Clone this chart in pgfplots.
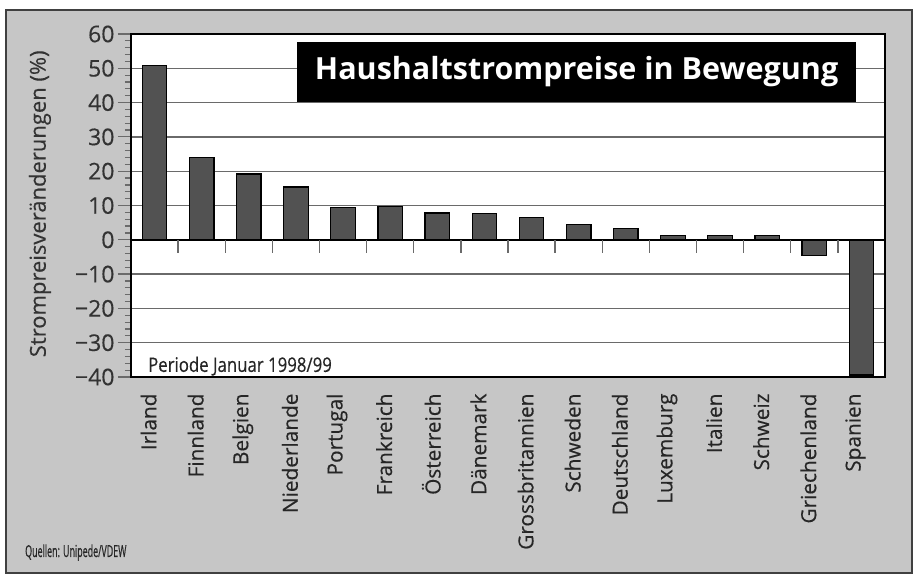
\documentclass[border=0pt]{standalone}
\usepackage{pgfplots}
\pgfplotsset{compat=1.18}
\usepackage{fontspec}
\setmainfont{Open Sans}[FakeBold=0.35]
\newfontfamily\condfont{Open Sans}[FakeStretch=0.84,FakeBold=0.35]
\newfontfamily\narrowfont{Open Sans}[FakeStretch=0.54,FakeBold=0.35]
\newfontfamily\titlefont{Open Sans Bold}
\definecolor{panelgray}{HTML}{C6C6C6}
\definecolor{bargray}{HTML}{525252}
\definecolor{gridgray}{HTML}{6A6A6A}
\begin{document}
\begin{tikzpicture}
\fill[white] (0,0) rectangle (915pt,586pt);
\filldraw[fill=panelgray, draw=black!75, line width=1.5pt] (6pt,13pt) rectangle (912pt,576pt);
\begin{axis}[
  at={(131pt,209pt)}, anchor=south west,
  scale only axis, width=754pt, height=343pt,
  xmin=-0.5, xmax=15.5, ymin=-40, ymax=60,
  axis background/.style={fill=white},
  axis line style={black, line width=2pt},
  xtick={0,...,15},
  xticklabels={Irland,Finnland,Belgien,Niederlande,Portugal,Frankreich,Österreich,Dänemark,Grossbritannien,Schweden,Deutschland,Luxemburg,Italien,Schweiz,Griechenland,Spanien},
  x tick style={draw=none},
  xticklabel style={rotate=90, anchor=east, font=\fontsize{20.8}{25}\selectfont, color=black!85, yshift=6pt},
  ytick={-40,-30,-20,-10,0,10,20,30,40,50,60},
  yticklabels={−40,−30,−20,−10,0,10,20,30,40,50,60},
  yticklabel style={font=\fontsize{23}{27}\selectfont, color=black!80},
  minor y tick num=4,
  ytick pos=left,
  tick align=outside,
  major tick length=13pt, minor tick length=6pt,
  y tick style={gridgray, line width=1.2pt},
  ymajorgrids, major grid style={gridgray, line width=1.3pt},
  ylabel={Strompreisveränderungen (\%)},
  ylabel style={at={(axis description cs:-0.1207,0.505)}, anchor=center, font=\fontsize{22}{26}\selectfont, color=black!80},
  ybar, bar width=24.5pt,
  clip=false,
]
\addplot[fill=bargray, draw=black, line width=1.2pt] coordinates {
(0,50.8) (1,24.1) (2,19.2) (3,15.4) (4,9.5) (5,9.6) (6,7.8) (7,7.7) (8,6.6) (9,4.4) (10,3.3) (11,1.2) (12,1.2) (13,1.2) (14,-4.5) (15,-39.4)};
\draw[black, line width=1.5pt] (axis cs:-0.5,0) -- (axis cs:15.5,0);
\pgfplotsinvokeforeach{0.5,1.5,2.5,3.5,4.5,5.5,6.5,7.5,8.5,9.5,10.5,11.5,12.5,13.5,14.5}{
  \draw[gridgray, line width=1.3pt] (axis cs:#1,0) -- ([yshift=-13pt]axis cs:#1,0);
}
\fill[black] (rel axis cs:0.220,0.802) rectangle (rel axis cs:0.9615,0.977);
\node[white, font=\titlefont\fontsize{30.5}{35}\selectfont] at (rel axis cs:0.591,0.889) {Haushaltstrompreise in Bewegung};
\node[anchor=base west, inner sep=0pt, font=\condfont\fontsize{20}{23}\selectfont, color=black!85] at (rel axis cs:0.0225,0.015) {Periode Januar 1998/99};
\end{axis}
\node[anchor=base west, inner sep=0pt, font=\narrowfont\fontsize{16.5}{20}\selectfont, color=black!85] at (25pt,29pt) {Quellen: Unipede/VDEW};
\end{tikzpicture}
\end{document}
